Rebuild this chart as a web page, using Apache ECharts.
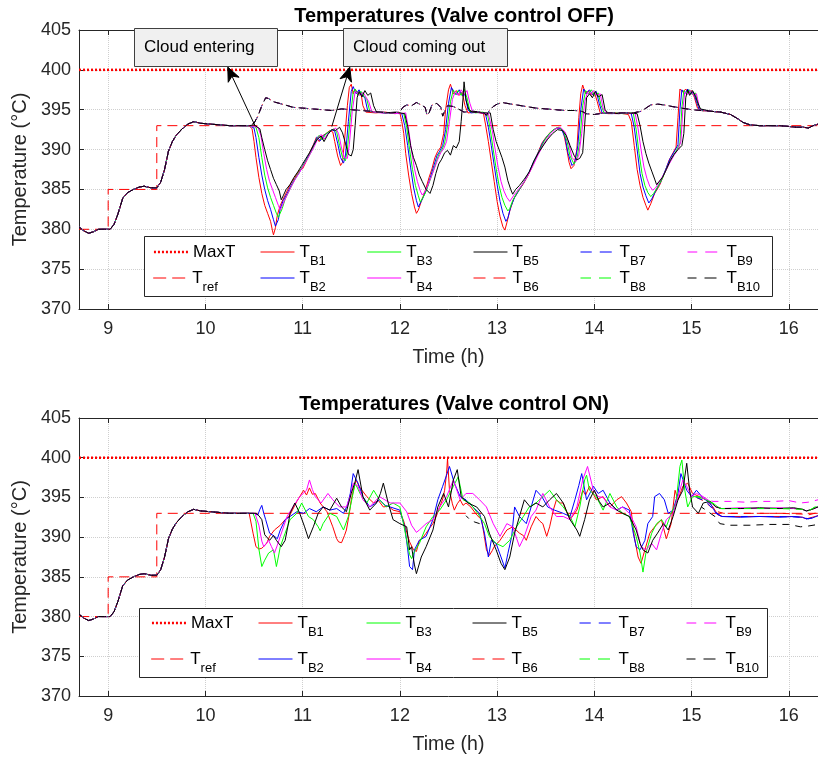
<!DOCTYPE html>
<html>
<head>
<meta charset="utf-8">
<script src="https://cdn.jsdelivr.net/npm/echarts@6/dist/echarts.min.js"></script>
<style>
  html, body { margin: 0; padding: 0; background: #ffffff; }
  #chart { width: 818px; height: 761px; }
</style>
</head>
<body>
<div id="chart"></div>
<script>
// ---------------- data (time in h, temperature in °C) ----------------
const hourTicks = [9, 10, 11, 12, 13, 14, 15, 16];
const tempTicks = [370, 375, 380, 385, 390, 395, 400, 405];

const maxTemp = [[8.7, 400], [16.3, 400]];
const refTemp = [[8.7, 380], [9.0, 380], [9.0, 385], [9.5, 385], [9.5, 393], [16.3, 393]];

// start-up profile shared by every loop before the clouds arrive
const warmUp = [[8.70,380.3],[8.75,379.8],[8.80,379.5],[8.85,379.7],[8.90,380.0],[8.96,380.0],[9.02,380.0],[9.06,380.6],[9.10,381.9],[9.15,383.9],[9.20,384.6],[9.26,385.0],[9.32,385.3],[9.37,385.4],[9.44,385.2],[9.50,385.2],[9.54,385.9],[9.58,387.5],[9.62,389.8],[9.66,391.0],[9.70,391.8],[9.76,392.6],[9.82,393.2],[9.88,393.5],[9.95,393.3],[10.05,393.2],[10.15,393.1],[10.25,393.0],[10.35,393.0],[10.45,393.0]];

// valve control OFF
const offB1 = [[10.45,393.0],[10.48,392.6],[10.50,391.0],[10.52,389.0],[10.55,386.5],[10.58,384.5],[10.61,383.0],[10.64,382.0],[10.67,381.0],[10.69,379.8],[10.70,379.3],[10.72,380.2],[10.74,381.8],[10.77,383.0],[10.80,383.8],[10.84,384.8],[10.88,385.8],[10.92,386.5],[10.96,387.3],[11.00,387.6],[11.04,388.6],[11.08,389.8],[11.11,390.6],[11.14,391.5],[11.17,391.0],[11.20,391.7],[11.24,392.0],[11.28,392.4],[11.31,392.2],[11.33,391.0],[11.36,389.2],[11.39,388.0],[11.41,388.4],[11.43,391.0],[11.46,395.5],[11.48,397.8],[11.50,398.2],[11.52,397.0],[11.54,397.6],[11.57,396.9],[11.60,397.1],[11.62,395.5],[11.65,394.7],[11.75,394.6],[11.85,394.7],[11.95,394.5],[12.00,394.6],
  [12.02,393.5],[12.04,392.0],[12.06,389.5],[12.09,386.8],[12.12,384.5],[12.15,382.8],[12.17,382.0],[12.19,382.4],[12.22,383.5],[12.26,384.8],[12.30,386.5],[12.33,387.6],[12.36,389.0],[12.39,389.8],[12.42,390.3],[12.45,392.0],[12.47,395.0],[12.50,397.5],[12.52,398.2],[12.55,397.0],[12.58,397.4],[12.61,396.8],[12.64,397.2],[12.67,395.5],[12.70,394.6],[12.80,394.7],[12.86,394.5],
  [12.88,393.2],[12.91,391.0],[12.94,388.5],[12.97,386.0],[13.00,383.5],[13.03,381.6],[13.06,380.3],[13.08,379.9],[13.10,380.8],[13.13,382.3],[13.17,383.8],[13.22,384.8],[13.27,385.7],[13.32,386.8],[13.37,388.2],[13.42,389.6],[13.46,390.8],[13.50,391.5],[13.55,392.2],[13.60,392.6],[13.64,392.8],[13.68,392.3],[13.71,390.5],[13.74,388.4],[13.76,387.6],[13.79,388.0],[13.82,390.0],[13.84,394.0],[13.86,397.0],[13.88,398.1],[13.91,397.0],[13.94,397.4],[13.97,396.8],[14.00,397.2],[14.03,396.0],[14.06,394.6],[14.15,394.5],[14.25,394.6],[14.35,394.4],
  [14.38,393.5],[14.41,390.5],[14.44,387.5],[14.47,385.5],[14.50,384.0],[14.53,383.0],[14.55,382.4],[14.58,383.2],[14.62,384.5],[14.67,385.5],[14.72,387.0],[14.77,388.7],[14.81,389.6],[14.84,390.3],[14.86,394.0],[14.88,397.6],[14.91,397.2],[14.94,397.6],[14.97,397.0],[15.00,397.4],[15.03,396.5],[15.06,395.2],[15.10,394.9]];
const offB2 = [[10.45,393.0],[10.50,392.7],[10.52,391.5],[10.55,389.0],[10.58,386.8],[10.61,385.0],[10.64,383.6],[10.67,382.5],[10.70,381.2],[10.72,380.4],[10.73,380.2],[10.75,381.2],[10.77,382.6],[10.80,383.6],[10.84,384.5],[10.88,385.5],[10.92,386.3],[10.96,387.0],[11.00,387.9],[11.04,388.8],[11.08,389.6],[11.12,390.8],[11.15,391.6],[11.18,391.1],[11.22,391.8],[11.26,392.1],[11.30,392.5],[11.33,392.3],[11.36,390.8],[11.39,389.0],[11.42,388.3],[11.44,389.2],[11.47,393.5],[11.50,397.3],[11.52,397.9],[11.55,397.0],[11.58,397.5],[11.61,396.8],[11.64,396.5],[11.67,394.8],[11.75,394.7],[11.85,394.6],[11.95,394.6],[12.02,394.5],
  [12.05,393.0],[12.08,390.5],[12.11,387.8],[12.14,385.3],[12.17,383.6],[12.19,382.8],[12.21,383.0],[12.24,384.0],[12.28,385.2],[12.32,386.8],[12.35,388.0],[12.38,389.2],[12.41,389.8],[12.44,390.5],[12.47,392.5],[12.50,395.8],[12.53,397.8],[12.55,397.3],[12.58,396.9],[12.61,397.5],[12.64,396.8],[12.67,396.9],[12.70,395.0],[12.73,394.6],[12.82,394.7],[12.88,394.5],
  [12.91,392.8],[12.94,390.5],[12.97,388.0],[13.00,385.6],[13.03,383.5],[13.06,382.0],[13.09,381.0],[13.11,381.4],[13.14,382.8],[13.18,384.0],[13.23,385.0],[13.28,386.0],[13.33,387.2],[13.38,388.6],[13.43,389.8],[13.47,390.9],[13.51,391.6],[13.56,392.3],[13.61,392.7],[13.66,392.6],[13.70,391.5],[13.73,389.5],[13.77,388.0],[13.80,388.4],[13.83,390.5],[13.86,395.0],[13.89,397.6],[13.92,397.0],[13.95,397.5],[13.98,396.9],[14.02,397.3],[14.05,395.8],[14.08,394.6],[14.18,394.5],[14.28,394.6],[14.38,394.5],
  [14.41,392.8],[14.44,390.0],[14.47,387.0],[14.50,385.3],[14.53,384.2],[14.56,383.3],[14.59,383.8],[14.63,384.8],[14.68,385.9],[14.73,387.4],[14.78,388.9],[14.82,389.7],[14.86,390.6],[14.88,395.0],[14.90,397.5],[14.93,397.0],[14.96,397.6],[14.99,397.0],[15.02,397.2],[15.05,396.0],[15.08,395.0],[15.10,394.9]];
const offB3 = [[10.45,393.0],[10.52,392.8],[10.55,391.5],[10.58,389.0],[10.61,386.8],[10.64,385.2],[10.67,384.0],[10.70,383.0],[10.73,382.0],[10.75,381.5],[10.77,381.4],[10.79,382.6],[10.82,383.8],[10.86,384.8],[10.90,385.8],[10.94,386.7],[10.98,387.5],[11.02,388.3],[11.06,389.1],[11.10,390.0],[11.14,391.2],[11.17,391.8],[11.20,391.2],[11.24,392.0],[11.28,392.3],[11.32,392.6],[11.35,392.2],[11.38,390.5],[11.41,389.0],[11.44,388.6],[11.46,390.0],[11.49,394.0],[11.52,397.2],[11.54,397.6],[11.57,396.8],[11.60,397.3],[11.63,396.7],[11.66,396.3],[11.69,394.8],[11.78,394.7],[11.88,394.6],[11.97,394.6],[12.04,394.5],
  [12.07,392.8],[12.10,390.0],[12.13,387.5],[12.16,385.5],[12.19,384.2],[12.21,383.4],[12.23,383.6],[12.26,384.5],[12.30,385.8],[12.34,387.2],[12.37,388.3],[12.40,389.4],[12.43,389.9],[12.46,390.8],[12.49,393.0],[12.52,396.0],[12.55,397.5],[12.57,396.9],[12.60,397.4],[12.63,396.8],[12.66,397.6],[12.69,396.5],[12.72,394.8],[12.78,394.6],[12.85,394.7],[12.90,394.5],
  [12.93,392.5],[12.96,390.0],[12.99,387.6],[13.02,385.5],[13.05,384.0],[13.08,383.0],[13.11,382.3],[13.13,382.6],[13.16,383.6],[13.20,384.5],[13.25,385.4],[13.30,386.4],[13.35,387.6],[13.40,389.0],[13.45,390.2],[13.49,391.2],[13.53,391.9],[13.58,392.5],[13.63,392.8],[13.68,392.4],[13.72,391.0],[13.75,389.2],[13.79,388.2],[13.82,388.8],[13.85,391.0],[13.88,395.5],[13.91,397.4],[13.94,397.0],[13.97,397.5],[14.00,396.8],[14.04,397.1],[14.07,395.5],[14.10,394.6],[14.20,394.6],[14.30,394.5],[14.40,394.6],
  [14.43,392.5],[14.46,389.5],[14.49,387.0],[14.52,385.5],[14.55,384.6],[14.58,384.1],[14.61,384.5],[14.65,385.3],[14.70,386.4],[14.75,387.8],[14.80,389.0],[14.84,389.8],[14.88,390.8],[14.90,395.2],[14.92,397.4],[14.95,397.0],[14.98,397.5],[15.01,396.9],[15.04,397.1],[15.07,395.6],[15.10,394.9]];
const offB4 = [[10.45,393.0],[10.54,392.8],[10.57,391.8],[10.60,389.5],[10.63,387.5],[10.66,386.0],[10.69,385.0],[10.72,384.0],[10.75,383.0],[10.77,382.4],[10.79,382.6],[10.81,383.5],[10.84,384.3],[10.88,385.3],[10.92,386.2],[10.96,387.0],[11.00,387.8],[11.04,388.6],[11.08,389.5],[11.12,390.4],[11.16,391.5],[11.19,391.9],[11.22,391.3],[11.26,392.0],[11.30,392.4],[11.34,392.7],[11.37,392.0],[11.40,390.2],[11.43,389.0],[11.46,388.9],[11.48,390.6],[11.51,394.8],[11.54,397.3],[11.56,397.5],[11.59,396.8],[11.62,397.2],[11.65,396.6],[11.68,396.0],[11.71,394.8],[11.80,394.6],[11.90,394.6],[12.00,394.5],[12.06,394.6],
  [12.09,392.5],[12.12,389.8],[12.15,387.6],[12.18,386.0],[12.21,384.8],[12.23,384.3],[12.25,384.6],[12.28,385.3],[12.32,386.5],[12.36,387.8],[12.39,388.8],[12.42,389.6],[12.45,390.1],[12.48,391.0],[12.51,393.5],[12.54,396.3],[12.57,397.3],[12.60,396.8],[12.63,397.5],[12.66,396.9],[12.69,397.4],[12.72,395.8],[12.75,394.7],[12.83,394.6],[12.91,394.5],
  [12.95,392.4],[12.98,390.0],[13.01,387.8],[13.04,386.0],[13.07,384.8],[13.10,384.0],[13.13,383.5],[13.15,383.7],[13.18,384.4],[13.22,385.0],[13.27,385.8],[13.32,386.8],[13.37,388.0],[13.42,389.3],[13.47,390.5],[13.51,391.3],[13.55,392.0],[13.60,392.6],[13.65,392.8],[13.70,392.2],[13.74,390.6],[13.77,389.0],[13.81,388.5],[13.84,389.3],[13.87,392.0],[13.90,396.0],[13.93,397.2],[13.96,396.9],[13.99,397.4],[14.02,396.8],[14.06,397.0],[14.09,395.2],[14.12,394.6],[14.22,394.5],[14.32,394.6],[14.42,394.5],
  [14.45,392.6],[14.48,390.0],[14.51,387.8],[14.54,386.4],[14.57,385.4],[14.60,384.9],[14.63,385.2],[14.67,386.0],[14.72,387.0],[14.77,388.2],[14.82,389.3],[14.86,390.0],[14.89,391.0],[14.91,395.0],[14.93,397.2],[14.96,396.9],[14.99,397.4],[15.02,396.8],[15.05,397.0],[15.08,395.3],[15.10,394.9]];
const offB5 = [[10.45,393.0],[10.50,393.1],[10.56,392.6],[10.58,391.5],[10.61,390.0],[10.64,388.6],[10.67,387.5],[10.70,386.4],[10.73,385.6],[10.76,384.8],[10.78,383.7],[10.80,384.2],[10.83,385.0],[10.87,385.6],[10.91,386.5],[10.95,387.2],[10.99,388.0],[11.03,388.8],[11.07,389.6],[11.11,390.5],[11.15,391.3],[11.19,391.7],[11.22,391.0],[11.26,391.9],[11.30,392.5],[11.34,392.4],[11.38,392.8],[11.41,392.1],[11.44,390.8],[11.47,389.4],[11.50,389.2],[11.52,390.0],[11.54,393.0],[11.56,396.5],[11.58,397.3],[11.61,396.6],[11.64,397.4],[11.67,396.8],[11.70,397.1],[11.73,395.5],[11.76,394.7],[11.85,394.6],[11.95,394.7],[12.05,394.5],
  [12.08,392.9],[12.11,390.5],[12.14,389.0],[12.17,388.0],[12.20,386.8],[12.23,386.0],[12.27,385.0],[12.31,384.5],[12.34,385.5],[12.37,387.0],[12.40,388.2],[12.43,388.8],[12.46,389.6],[12.49,389.9],[12.52,389.3],[12.55,390.5],[12.58,390.2],[12.61,391.0],[12.63,393.5],[12.65,396.5],[12.66,398.5],[12.68,396.2],[12.71,395.0],[12.75,394.7],[12.85,394.6],[12.93,394.6],
  [12.96,392.5],[12.99,391.0],[13.02,390.0],[13.05,389.0],[13.08,387.8],[13.11,386.1],[13.14,385.0],[13.16,384.4],[13.19,385.0],[13.23,385.5],[13.28,386.3],[13.33,387.2],[13.38,388.6],[13.43,389.7],[13.48,390.6],[13.52,391.3],[13.57,392.0],[13.62,392.5],[13.67,392.4],[13.71,391.8],[13.75,390.5],[13.79,389.3],[13.82,388.7],[13.85,388.9],[13.88,389.6],[13.90,393.0],[13.92,396.5],[13.95,397.0],[13.98,396.5],[14.01,397.3],[14.04,396.6],[14.08,396.9],[14.11,395.0],[14.14,394.6],[14.25,394.5],[14.35,394.6],[14.44,394.5],
  [14.47,393.0],[14.50,391.0],[14.53,389.5],[14.56,388.3],[14.59,387.3],[14.62,386.3],[14.64,385.6],[14.66,385.8],[14.70,386.5],[14.74,387.5],[14.78,388.6],[14.82,389.4],[14.86,390.0],[14.90,390.5],[14.92,392.0],[14.94,396.5],[14.96,397.5],[14.98,396.8],[15.01,397.4],[15.04,396.7],[15.06,396.0],[15.09,395.1],[15.10,394.9]];
// dashed loops B6..B10 stay on the upper path
const offUpper = [[10.45,393.0],[10.50,393.3],[10.54,394.2],[10.58,395.5],[10.62,396.5],[10.65,396.4],[10.70,396.0],[10.76,395.8],[10.82,395.6],[10.90,395.3],[11.00,395.2],[11.10,395.1],[11.20,395.0],[11.30,394.9],[11.40,395.1],[11.50,395.0],[11.60,394.9],[11.70,394.8],[11.80,394.7],[11.90,394.6],[12.00,394.7],[12.03,395.3],[12.07,395.6],[12.12,395.5],[12.17,395.9],[12.22,395.6],[12.26,395.3],[12.28,394.3],[12.30,394.6],[12.33,395.6],[12.38,395.8],[12.42,395.3],[12.44,394.2],[12.46,394.8],[12.49,395.5],[12.55,395.4],[12.60,395.1],[12.66,394.7],[12.75,394.8],[12.85,394.7],[12.89,394.3],[12.92,394.9],[12.96,395.4],[13.00,395.7],[13.05,395.9],[13.10,395.8],[13.20,395.6],[13.30,395.4],[13.40,395.2],[13.50,395.1],[13.60,395.0],[13.70,394.9],[13.80,394.9],[13.87,394.8],[13.92,394.5],[14.00,394.4],[14.10,394.6],[14.20,394.6],[14.30,394.6],[14.40,394.6],[14.48,394.8],[14.53,395.2],[14.58,395.6],[14.65,395.7],[14.72,395.6],[14.80,395.4],[14.90,395.2],[15.00,395.0],[15.10,394.9]];
const offTail = [[15.10,394.9],[15.20,394.8],[15.30,394.7],[15.40,394.4],[15.47,393.9],[15.53,393.4],[15.60,393.1],[15.70,393.0],[15.80,393.0],[15.90,393.0],[16.00,392.9],[16.08,392.8],[16.15,392.8],[16.20,392.7],[16.25,393.0],[16.30,393.2]];

// valve control ON
const onB1 = [[10.45,393.0],[10.47,393.0],[10.49,390.5],[10.52,388.8],[10.55,388.5],[10.58,388.6],[10.63,389.2],[10.66,390.1],[10.71,390.9],[10.77,391.5],[10.82,392.2],[10.87,392.8],[10.94,394.5],[10.98,395.3],[11.01,395.9],[11.04,395.3],[11.07,396.2],[11.10,395.4],[11.13,395.5],[11.18,394.3],[11.25,393.2],[11.31,391.3],[11.35,389.8],[11.37,389.4],[11.40,389.3],[11.43,390.2],[11.45,390.9],[11.48,393.0],[11.50,394.7],[11.53,396.3],[11.55,397.2],[11.58,396.4],[11.61,395.9],[11.66,395.1],[11.73,394.3],[11.78,394.6],[11.83,393.8],[11.88,393.9],[11.93,393.4],[12.00,393.2],[12.04,392.0],[12.07,390.6],[12.10,389.4],[12.14,388.4],[12.17,388.2],[12.20,389.6],[12.24,390.0],[12.27,390.5],[12.31,391.2],[12.34,391.7],[12.38,392.8],[12.41,393.8],[12.44,394.8],[12.46,395.9],[12.48,398.0],[12.49,399.9],[12.51,395.9],[12.54,394.2],[12.56,393.4],[12.59,394.2],[12.62,394.7],[12.65,394.0],[12.68,394.3],[12.73,393.8],[12.79,392.8],[12.84,392.2],[12.87,390.0],[12.89,388.4],[12.92,387.7],[12.95,388.3],[12.97,388.8],[13.03,389.6],[13.10,390.9],[13.16,391.3],[13.23,390.5],[13.27,390.2],[13.30,389.6],[13.35,391.3],[13.40,392.6],[13.44,392.0],[13.47,391.7],[13.51,390.1],[13.54,391.3],[13.58,393.5],[13.61,394.7],[13.65,394.3],[13.68,394.3],[13.72,393.0],[13.75,392.2],[13.82,393.4],[13.85,394.5],[13.88,395.9],[13.91,395.3],[13.95,396.4],[14.02,394.7],[14.09,395.1],[14.16,393.8],[14.23,394.7],[14.28,395.1],[14.33,394.3],[14.38,393.2],[14.41,390.1],[14.45,387.5],[14.48,386.7],[14.52,388.4],[14.57,390.5],[14.62,391.3],[14.69,392.2],[14.74,389.8],[14.79,391.7],[14.83,395.9],[14.86,394.7],[14.91,396.4],[14.96,396.8],[15.01,395.5],[15.08,395.1],[15.15,394.7],[15.22,393.8],[15.27,392.8],[15.32,392.6],[15.50,392.6],[15.70,392.6],[15.90,392.6],[16.05,392.6],[16.14,392.5],[16.18,392.3],[16.24,392.5],[16.30,392.7]];
const onB2 = [[10.45,393.0],[10.50,393.0],[10.54,392.8],[10.56,393.5],[10.58,394.0],[10.60,393.0],[10.62,392.2],[10.66,390.5],[10.71,390.1],[10.74,389.8],[10.77,390.9],[10.82,392.2],[10.87,392.6],[10.94,393.2],[11.01,393.0],[11.07,393.6],[11.14,393.2],[11.21,393.8],[11.28,393.4],[11.35,393.6],[11.42,393.0],[11.46,394.0],[11.49,395.5],[11.52,398.0],[11.54,397.5],[11.57,396.8],[11.62,395.1],[11.69,393.8],[11.74,394.2],[11.79,394.7],[11.85,394.0],[11.90,393.8],[12.00,393.4],[12.05,391.3],[12.08,388.5],[12.10,386.3],[12.13,385.9],[12.15,388.4],[12.20,389.6],[12.27,390.1],[12.34,392.2],[12.39,394.7],[12.44,396.4],[12.48,397.8],[12.51,398.9],[12.56,396.8],[12.62,395.1],[12.68,394.7],[12.75,393.8],[12.82,393.0],[12.87,390.5],[12.91,387.5],[12.94,389.6],[12.99,389.2],[13.04,387.5],[13.08,386.1],[13.11,387.9],[13.15,390.1],[13.18,393.8],[13.23,392.6],[13.30,391.7],[13.35,393.8],[13.40,395.9],[13.46,395.1],[13.52,393.8],[13.59,393.4],[13.68,393.0],[13.75,392.6],[13.80,394.7],[13.84,396.5],[13.87,398.0],[13.92,394.7],[13.99,396.4],[14.04,395.5],[14.09,395.9],[14.16,394.3],[14.23,393.4],[14.29,393.8],[14.36,393.4],[14.40,390.5],[14.43,388.8],[14.47,388.4],[14.52,389.6],[14.55,391.7],[14.60,392.6],[14.62,395.1],[14.67,395.5],[14.72,394.7],[14.76,393.0],[14.81,393.4],[14.86,395.5],[14.89,398.0],[14.95,395.9],[15.00,395.1],[15.05,395.9],[15.12,394.9],[15.19,394.3],[15.25,393.0],[15.31,392.6],[15.50,392.5],[15.70,392.6],[15.90,392.5],[16.05,392.6],[16.14,392.5],[16.18,392.3],[16.24,392.4],[16.30,392.7]];
const onB3 = [[10.45,393.0],[10.49,393.0],[10.52,392.0],[10.55,388.5],[10.58,386.3],[10.61,387.1],[10.65,388.0],[10.70,388.4],[10.73,386.3],[10.75,387.5],[10.77,388.8],[10.82,390.5],[10.87,392.2],[10.94,393.0],[10.99,394.3],[11.06,392.6],[11.11,392.2],[11.16,391.3],[11.18,390.8],[11.21,391.7],[11.28,393.0],[11.35,392.6],[11.42,390.9],[11.47,392.6],[11.51,395.0],[11.54,396.8],[11.59,395.5],[11.66,394.3],[11.73,395.9],[11.79,394.7],[11.86,393.8],[11.93,394.3],[12.00,393.8],[12.04,391.5],[12.07,389.6],[12.10,387.8],[12.12,387.3],[12.15,388.2],[12.20,389.2],[12.27,391.3],[12.34,392.6],[12.41,393.4],[12.48,394.7],[12.55,396.4],[12.60,397.6],[12.65,394.7],[12.72,394.3],[12.80,393.0],[12.87,391.7],[12.92,390.1],[12.99,389.2],[13.06,388.8],[13.13,389.6],[13.20,391.3],[13.27,392.6],[13.33,393.8],[13.40,394.3],[13.47,395.1],[13.54,395.9],[13.61,394.7],[13.68,393.8],[13.75,392.6],[13.80,391.3],[13.85,393.8],[13.90,397.2],[13.92,397.8],[13.95,395.9],[14.02,395.1],[14.09,393.4],[14.16,395.5],[14.23,393.8],[14.29,393.0],[14.36,392.6],[14.43,390.1],[14.47,388.0],[14.50,385.6],[14.53,388.0],[14.59,390.5],[14.64,391.7],[14.69,392.2],[14.74,391.3],[14.79,393.0],[14.84,394.3],[14.88,398.9],[14.90,399.7],[14.93,395.9],[14.96,393.8],[15.01,395.1],[15.08,395.1],[15.15,394.7],[15.22,394.3],[15.29,393.6],[15.50,393.6],[15.70,393.6],[15.90,393.6],[16.05,393.6],[16.14,393.5],[16.18,393.3],[16.22,393.4],[16.27,393.8],[16.30,393.8]];
const onB4 = [[10.45,393.0],[10.51,393.0],[10.55,391.5],[10.58,389.5],[10.60,388.8],[10.65,389.6],[10.68,388.8],[10.71,388.0],[10.74,389.0],[10.77,390.1],[10.84,392.6],[10.90,393.8],[10.97,395.1],[11.04,395.9],[11.07,397.2],[11.10,396.0],[11.13,395.1],[11.19,394.3],[11.26,395.5],[11.31,394.7],[11.38,393.8],[11.45,393.8],[11.49,395.2],[11.52,396.8],[11.57,396.4],[11.62,394.7],[11.69,393.8],[11.79,395.1],[11.90,394.3],[12.00,394.3],[12.07,393.2],[12.12,391.5],[12.17,390.6],[12.20,390.9],[12.27,391.7],[12.34,392.2],[12.41,393.8],[12.48,395.1],[12.55,397.2],[12.62,394.7],[12.68,395.5],[12.75,395.5],[12.82,394.7],[12.89,393.8],[12.96,391.7],[13.03,390.1],[13.10,391.7],[13.16,391.3],[13.23,388.8],[13.28,390.1],[13.35,392.6],[13.40,393.4],[13.47,395.5],[13.54,393.8],[13.61,392.6],[13.68,392.6],[13.75,392.2],[13.82,393.8],[13.88,397.2],[13.93,398.9],[13.99,395.9],[14.04,395.1],[14.09,395.0],[14.16,393.8],[14.23,393.4],[14.29,393.8],[14.36,393.0],[14.43,391.3],[14.48,388.8],[14.53,388.4],[14.59,389.2],[14.64,388.4],[14.69,390.5],[14.74,392.2],[14.81,393.0],[14.86,395.1],[14.91,397.2],[14.95,396.4],[15.00,395.1],[15.05,395.5],[15.12,395.1],[15.19,394.5],[15.25,393.8],[15.31,393.6],[15.50,393.7],[15.70,393.6],[15.90,393.7],[16.05,393.6],[16.14,393.5],[16.18,393.3],[16.24,393.5],[16.30,393.8]];
const onB5 = [[10.45,393.0],[10.52,393.0],[10.55,392.7],[10.58,392.2],[10.61,390.3],[10.66,389.6],[10.70,390.2],[10.73,389.6],[10.78,388.8],[10.82,389.6],[10.85,391.5],[10.87,393.0],[10.92,394.3],[10.97,393.0],[11.02,391.3],[11.06,389.8],[11.11,391.3],[11.16,393.0],[11.21,393.8],[11.28,393.4],[11.35,394.9],[11.40,393.8],[11.45,393.2],[11.50,395.5],[11.54,397.0],[11.57,398.5],[11.62,395.1],[11.69,393.4],[11.76,394.3],[11.80,395.5],[11.83,396.8],[11.88,394.3],[11.93,392.2],[12.00,391.7],[12.07,391.3],[12.10,388.4],[12.12,388.8],[12.15,386.5],[12.17,385.4],[12.22,387.5],[12.27,388.8],[12.34,390.9],[12.39,393.8],[12.45,395.5],[12.50,393.8],[12.55,397.2],[12.59,398.5],[12.63,395.1],[12.70,394.3],[12.79,393.8],[12.87,392.6],[12.92,390.5],[12.99,388.4],[13.04,386.7],[13.08,385.9],[13.13,387.5],[13.18,390.5],[13.23,392.6],[13.28,394.7],[13.34,393.8],[13.40,394.3],[13.47,393.8],[13.54,394.7],[13.61,395.5],[13.68,394.3],[13.75,392.2],[13.82,390.9],[13.85,390.1],[13.90,392.2],[13.95,394.7],[14.00,395.9],[14.05,394.5],[14.09,393.8],[14.16,394.3],[14.23,393.4],[14.29,393.0],[14.36,392.6],[14.43,390.9],[14.47,389.2],[14.50,388.4],[14.55,388.0],[14.60,389.6],[14.65,390.5],[14.71,391.7],[14.76,390.9],[14.81,392.6],[14.86,394.7],[14.91,395.9],[14.95,399.3],[14.98,395.9],[15.01,393.8],[15.07,393.0],[15.12,394.3],[15.19,394.5],[15.25,393.8],[15.31,393.6],[15.50,393.6],[15.70,393.7],[15.90,393.6],[16.05,393.7],[16.14,393.5],[16.18,393.3],[16.24,393.5],[16.30,393.8]];
const onB6 = [[15.05,395.0],[15.12,394.6],[15.20,393.8],[15.27,393.2],[15.33,393.0],[15.60,393.0],[15.90,393.0],[16.14,392.9],[16.20,392.8],[16.30,393.1]];
const onB7 = [[15.05,395.0],[15.15,394.5],[15.24,393.2],[15.31,392.6],[15.60,392.6],[15.90,392.6],[16.14,392.5],[16.20,392.3],[16.30,392.6]];
const onB8 = [[15.05,395.1],[15.15,394.7],[15.25,394.0],[15.30,393.6],[15.60,393.6],[15.90,393.6],[16.14,393.5],[16.20,393.3],[16.27,393.8],[16.30,393.8]];
const onB9 = [[15.10,395.0],[15.16,394.7],[15.22,394.5],[15.40,394.5],[15.55,394.4],[15.70,394.5],[15.85,394.5],[16.00,394.6],[16.12,394.3],[16.20,394.4],[16.30,394.7]];
const onB10a = [[12.68,392.7],[12.72,392.2],[12.77,391.9],[12.82,391.7]];
const onB10b = [[15.10,393.8],[15.17,393.2],[15.24,392.6],[15.29,391.7],[15.39,391.5],[15.60,391.5],[15.80,391.6],[16.00,391.6],[16.12,391.3],[16.20,391.4],[16.30,391.6]];

const GAP = [[10.46, null]];

// ---------------- styling ----------------
const FONT = "'Liberation Sans', Arial, Helvetica, sans-serif";
const INK = '#262626';
const RED = '#ff0000', BLUE = '#0000ff', GREEN = '#00ff00', MAGENTA = '#ff00ff', BLACK = '#000000';
const DASH = [7, 6];

const looks = {
  'MaxT':  { color: RED, width: 2.5, type: [2, 2] },
  'T_ref': { color: RED, width: 1, type: [10, 6] },
  'T_B1':  { color: RED, width: 1, type: 'solid' },
  'T_B2':  { color: BLUE, width: 1, type: 'solid' },
  'T_B3':  { color: GREEN, width: 1, type: 'solid' },
  'T_B4':  { color: MAGENTA, width: 1, type: 'solid' },
  'T_B5':  { color: BLACK, width: 1, type: 'solid' },
  'T_B6':  { color: RED, width: 1, type: DASH, dashOffset: 0 },
  'T_B7':  { color: BLUE, width: 1, type: DASH, dashOffset: 0.75 },
  'T_B8':  { color: GREEN, width: 1, type: DASH, dashOffset: 1.5 },
  'T_B9':  { color: MAGENTA, width: 1, type: DASH, dashOffset: 2.25 },
  'T_B10': { color: BLACK, width: 1, type: DASH, dashOffset: 3 }
};

// each plot gets its own series names so its legend only drives its own lines
function keyOf(name) { return name.split(':')[1]; }

function line(plot, key, data, grid) {
  const lk = looks[key];
  return {
    type: 'line', name: plot + ':' + key, data: data,
    xAxisIndex: grid * 2, yAxisIndex: grid,
    symbol: 'none', silent: true, animation: false,
    lineStyle: { color: lk.color, width: lk.width, type: lk.type, dashOffset: lk.dashOffset || 0 },
    itemStyle: { color: lk.color }
  };
}

const seriesList = [
  line('OFF', 'MaxT', maxTemp, 0), line('OFF', 'T_ref', refTemp, 0),
  line('OFF', 'T_B1', warmUp.concat(offB1, offTail), 0),
  line('OFF', 'T_B2', warmUp.concat(offB2, offTail), 0),
  line('OFF', 'T_B3', warmUp.concat(offB3, offTail), 0),
  line('OFF', 'T_B4', warmUp.concat(offB4, offTail), 0),
  line('OFF', 'T_B5', warmUp.concat(offB5, offTail), 0),
  line('OFF', 'T_B6', warmUp.concat(offUpper, offTail), 0),
  line('OFF', 'T_B7', warmUp.concat(offUpper, offTail), 0),
  line('OFF', 'T_B8', warmUp.concat(offUpper, offTail), 0),
  line('OFF', 'T_B9', warmUp.concat(offUpper, offTail), 0),
  line('OFF', 'T_B10', warmUp.concat(offUpper, offTail), 0),

  line('ON', 'MaxT', maxTemp, 1), line('ON', 'T_ref', refTemp, 1),
  line('ON', 'T_B1', warmUp.concat(onB1), 1),
  line('ON', 'T_B2', warmUp.concat(onB2), 1),
  line('ON', 'T_B3', warmUp.concat(onB3), 1),
  line('ON', 'T_B4', warmUp.concat(onB4), 1),
  line('ON', 'T_B5', warmUp.concat(onB5), 1),
  line('ON', 'T_B6', warmUp.concat(GAP, onB6), 1),
  line('ON', 'T_B7', warmUp.concat(GAP, onB7), 1),
  line('ON', 'T_B8', warmUp.concat(GAP, onB8), 1),
  line('ON', 'T_B9', warmUp.concat(GAP, onB9), 1),
  line('ON', 'T_B10', warmUp.concat(GAP, onB10a, [[12.83, null]], onB10b), 1)
];

// ---------------- axes ----------------
const gridBoxes = [
  { left: 79, right: -1, top: 30, height: 279 },
  { left: 79, right: -1, top: 418, height: 278 }
];

const xAxes = [], yAxes = [];
gridBoxes.forEach(function (g, i) {
  xAxes.push({
    gridIndex: i, type: 'value', min: 8.7, max: 16.3, position: 'bottom',
    axisLine: { show: true, onZero: false, lineStyle: { color: INK, width: 1 } },
    axisTick: { show: true, inside: true, length: 5, customValues: hourTicks, lineStyle: { color: INK } },
    axisLabel: { show: true, customValues: hourTicks, fontSize: 18, color: INK, margin: 11, fontFamily: FONT },
    splitLine: { show: true, lineStyle: { color: '#cfcfcf', type: 'dotted', width: 1 } },
    name: 'Time (h)', nameLocation: 'middle', nameGap: 39,
    nameTextStyle: { fontSize: 19.5, color: INK, fontFamily: FONT }
  });
  xAxes.push({
    gridIndex: i, type: 'value', min: 8.7, max: 16.3, position: 'top',
    axisLine: { show: true, onZero: false, lineStyle: { color: INK, width: 1 } },
    axisTick: { show: true, inside: true, length: 5, customValues: hourTicks, lineStyle: { color: INK } },
    axisLabel: { show: false }, splitLine: { show: false }
  });
  yAxes.push({
    gridIndex: i, type: 'value', min: tempTicks[0], max: tempTicks[tempTicks.length - 1], interval: 5,
    axisLine: { show: true, onZero: false, lineStyle: { color: INK, width: 1 } },
    axisTick: { show: true, inside: true, length: 5, lineStyle: { color: INK } },
    axisLabel: { fontSize: 18, color: INK, margin: 8, fontFamily: FONT },
    splitLine: { show: true, lineStyle: { color: '#cfcfcf', type: 'dotted', width: 1 } },
    name: 'Temperature (°C)', nameLocation: 'middle', nameGap: 44,
    nameTextStyle: { fontSize: 20, color: INK, fontFamily: FONT }
  });
});

// ---------------- legends: one entry per slot, six columns by two rows ----------------
const legendColumns = [['MaxT', 'T_ref'], ['T_B1', 'T_B2'], ['T_B3', 'T_B4'], ['T_B5', 'T_B6'], ['T_B7', 'T_B8'], ['T_B9', 'T_B10']];
const legendSlots = [
  { plot: 'OFF', cols: [152.7, 260, 366.7, 473, 580, 687], rows: [252.5, 278.5], frame: [144.5, 236.5, 628, 60] },
  { plot: 'ON', cols: [150.7, 258, 366, 472, 579, 686], rows: [623.5, 659.5], frame: [139.5, 608.5, 628, 69] }
];
const legendSample = {
  'MaxT': { type: [2, 2], width: 2.5 },
  'T_ref': { type: [13, 6], width: 1 },
  'T_B6': { type: [12, 8], width: 1 }, 'T_B7': { type: [12, 8], width: 1 },
  'T_B8': { type: [12, 8], width: 1 }, 'T_B9': { type: [12, 8], width: 1 },
  'T_B10': { type: [12, 8], width: 1 }
};

function legendText(name) {
  const key = keyOf(name);
  if (key === 'MaxT') return '{t|MaxT}{s| }';
  return '{t|T}{s|' + key.slice(2) + '}';
}

const legends = [];
legendSlots.forEach(function (slot) {
  legendColumns.forEach(function (col, c) {
    col.forEach(function (key, r) {
      const smp = legendSample[key] || { type: 'solid', width: 1 };
      legends.push({
        show: true, data: [slot.plot + ':' + key], orient: 'horizontal',
        left: slot.cols[c], top: slot.rows[r] - 16,
        padding: 0, itemWidth: 34, itemHeight: 10, itemGap: 0,
        selectedMode: false, z: 6,
        itemStyle: { color: 'rgba(0,0,0,0)', borderColor: 'rgba(0,0,0,0)', borderWidth: 0 },
        lineStyle: { color: looks[key].color, width: smp.width, type: smp.type },
        formatter: legendText,
        textStyle: {
          color: '#000', fontFamily: FONT,
          rich: {
            t: { fontSize: 17, lineHeight: 20, verticalAlign: 'middle', fontFamily: FONT, color: '#000' },
            s: { fontSize: 13, lineHeight: 14, padding: [18, 0, 0, 0], verticalAlign: 'middle', fontFamily: FONT, color: '#000' }
          }
        }
      });
    });
  });
});

const titles = [
  { text: 'Temperatures (Valve control OFF)', left: 449, top: 0, textAlign: 'center',
    textStyle: { fontSize: 20, fontWeight: 'bold', color: '#000', fontFamily: FONT, lineHeight: 22 } },
  { text: 'Temperatures (Valve control ON)', left: 449, top: 388, textAlign: 'center',
    textStyle: { fontSize: 20, fontWeight: 'bold', color: '#000', fontFamily: FONT, lineHeight: 22 } }
];

const chart = echarts.init(document.getElementById('chart'), null, { renderer: 'canvas', devicePixelRatio: 1 });
chart.setOption({
  animation: false,
  backgroundColor: '#ffffff',
  title: titles,
  grid: gridBoxes,
  xAxis: xAxes,
  yAxis: yAxes,
  legend: legends,
  series: seriesList
});

// ---------------- legend frames and cloud annotations ----------------
const cloudNotes = [
  { text: 'Cloud entering', box: [134, 28, 143, 38], from: [10.51, 393.0], to: [10.23, 400.35] },
  { text: 'Cloud coming out', box: [343, 28, 164, 38], from: [11.30, 392.9], to: [11.485, 400.35] }
];

const shapes = [];
legendSlots.forEach(function (slot) {
  const f = slot.frame;
  shapes.push({ type: 'rect', z: 5, silent: true,
    shape: { x: f[0], y: f[1], width: f[2], height: f[3] },
    style: { fill: '#ffffff', stroke: INK, lineWidth: 1 } });
});

cloudNotes.forEach(function (note) {
  const b = note.box;
  const p0 = chart.convertToPixel({ seriesIndex: 0 }, note.from);
  const p1 = chart.convertToPixel({ seriesIndex: 0 }, note.to);
  const dx = p1[0] - p0[0], dy = p1[1] - p0[1];
  const len = Math.sqrt(dx * dx + dy * dy);
  const ux = dx / len, uy = dy / len, nx = -uy, ny = ux;
  const L = 14, W = 6, notch = 4;
  const bx = p1[0] - ux * L, by = p1[1] - uy * L;
  shapes.push({ type: 'line', z: 7, silent: true,
    shape: { x1: p0[0], y1: p0[1], x2: p1[0] - ux * (L - notch), y2: p1[1] - uy * (L - notch) },
    style: { stroke: '#000', lineWidth: 1 } });
  shapes.push({ type: 'polygon', z: 7, silent: true,
    shape: { points: [
      [p1[0], p1[1]],
      [bx + nx * W, by + ny * W],
      [p1[0] - ux * (L - notch), p1[1] - uy * (L - notch)],
      [bx - nx * W, by - ny * W]
    ] },
    style: { fill: '#000', stroke: '#000', lineWidth: 1 } });
  shapes.push({ type: 'rect', z: 7, silent: true,
    shape: { x: b[0] + 0.5, y: b[1] + 0.5, width: b[2], height: b[3] },
    style: { fill: '#f0f0f0', stroke: '#404040', lineWidth: 1 } });
  shapes.push({ type: 'text', z: 8, silent: true,
    x: b[0] + 10, y: b[1] + b[3] / 2 + 0.5,
    style: { text: note.text, fontSize: 17, fontFamily: FONT, fill: '#000', verticalAlign: 'middle', align: 'left' } });
});

chart.setOption({ graphic: { elements: shapes } });
</script>
</body>
</html>
